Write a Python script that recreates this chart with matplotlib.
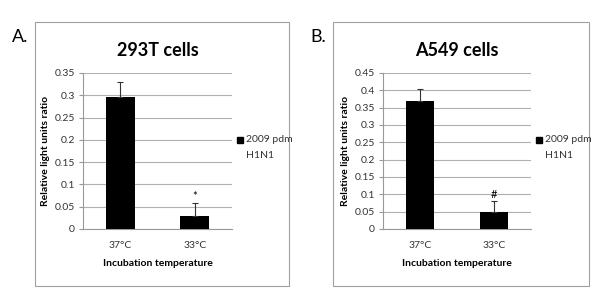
import matplotlib
matplotlib.use("Agg")
import matplotlib.pyplot as plt
from matplotlib.patches import Rectangle

plt.rcParams['font.family'] = ['Lato', 'DejaVu Sans']

categories = ["37°C", "33°C"]
a_values = [0.297, 0.03]
a_err = [0.033, 0.028]
b_values = [0.37, 0.05]
b_err = [0.033, 0.03]
a_ticks = [0, 0.05, 0.1, 0.15, 0.2, 0.25, 0.3, 0.35]
b_ticks = [0, 0.05, 0.1, 0.15, 0.2, 0.25, 0.3, 0.35, 0.4, 0.45]
a_tick_labels = ["0", "0.05", "0.1", "0.15", "0.2", "0.25", "0.3", "0.35"]
b_tick_labels = ["0", "0.05", "0.1", "0.15", "0.2", "0.25", "0.3", "0.35", "0.4", "0.45"]
a_marks = ["", "*"]
b_marks = ["", "#"]

W, H = 600, 306
fig = plt.figure(figsize=(W/100, H/100), dpi=100)

def px(x0, y0, x1, y1):
    return [x0/W, 1 - y1/H, (x1-x0)/W, (y1-y0)/H]

def panel(box, axbox, letter, letter_xy, title, vals, errs, ticks, labels, marks, leg_x):
    # frame
    fig.patches.append(Rectangle((box[0]/W, 1-box[3]/H), (box[2]-box[0])/W, (box[3]-box[1])/H,
                                 transform=fig.transFigure, fill=False, edgecolor='#a0a0a0', lw=0.8))
    fig.text(letter_xy[0]/W, 1-letter_xy[1]/H, letter, fontsize=13, ha='left', va='center')
    ax = fig.add_axes(px(*axbox))
    x = range(len(categories))
    ax.bar(x, vals, width=0.39, color='black', zorder=3)
    ax.errorbar(x, vals, yerr=[[0]*len(errs), errs], fmt='none', ecolor='#333333',
                elinewidth=0.8, capsize=2.5, capthick=0.8, zorder=4)
    for xi, v, e, m in zip(x, vals, errs, marks):
        if m:
            ax.text(xi, v+e+ticks[-1]*0.01, m, ha='center', va='bottom', fontsize=8)
    ax.set_xlim(-0.5, 1.5)
    ax.set_ylim(0, ticks[-1])
    ax.set_yticks(ticks)
    ax.set_yticklabels(labels, fontsize=7.5, color='#333333')
    ax.set_xticks(list(x))
    ax.set_xticklabels(categories, fontsize=7.5, color='#333333')
    ax.tick_params(axis='x', length=0, pad=9)
    ax.tick_params(axis='y', length=3, color='#999999', pad=3)
    ax.grid(axis='y', color='#b0b0b0', lw=0.8, zorder=0)
    for s in ['top', 'right']:
        ax.spines[s].set_visible(False)
    ax.spines['left'].set_color('#999999')
    ax.spines['bottom'].set_color('#999999')
    ax.set_title(title, fontsize=13, fontweight='bold', pad=12)
    ax.set_ylabel("Relative light units ratio", fontsize=7.5, fontweight='bold', labelpad=3)
    ax.set_xlabel("Incubation temperature", fontsize=7.5, fontweight='bold', labelpad=6)
    # legend
    fig.patches.append(Rectangle((leg_x/W, 1-143/H), 6/W, 6/H, transform=fig.transFigure,
                                 color='black'))
    fig.text((leg_x+9)/W, 1-140/H, "2009 pdm", fontsize=7.5, color='#333333', va='center')
    fig.text((leg_x+9)/W, 1-155/H, "H1N1", fontsize=7.5, color='#333333', va='center')
    return ax

panel((35, 22, 289, 286), (83, 73, 232, 229), "A.", (12, 37), "293T cells",
      a_values, a_err, a_ticks, a_tick_labels, a_marks, 237)
panel((333, 22, 589, 286), (383, 73, 531, 229), "B.", (310, 37), "A549 cells",
      b_values, b_err, b_ticks, b_tick_labels, b_marks, 536)

fig.savefig("out.png", dpi=100)
